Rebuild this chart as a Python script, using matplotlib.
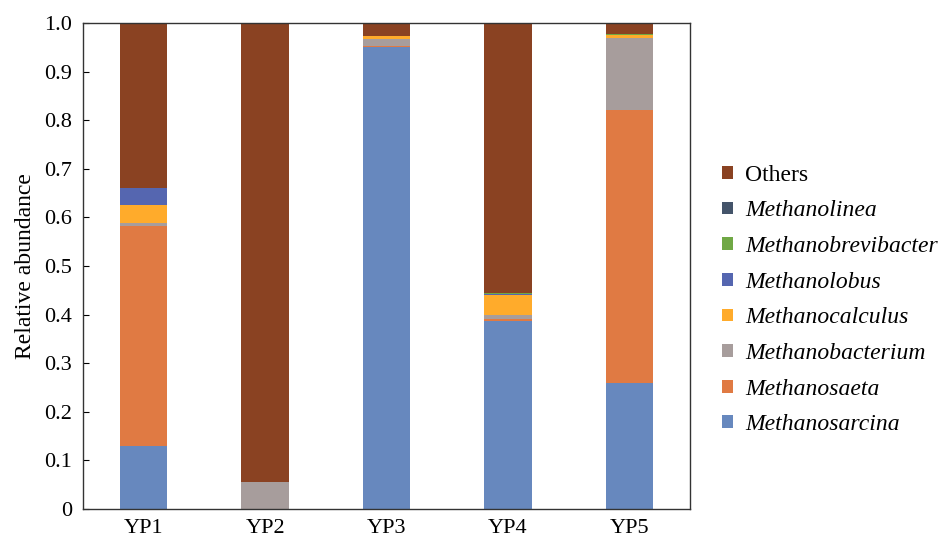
import matplotlib
matplotlib.use("Agg")
import matplotlib.pyplot as plt
import numpy as np

plt.rcParams['font.family'] = ['Liberation Serif', 'DejaVu Serif']

samples = ["YP1", "YP2", "YP3", "YP4", "YP5"]

# Relative abundance of each methanogen genus (bottom to top of each bar)
methanosarcina = [0.130, 0.000, 0.950, 0.387, 0.260]
methanosaeta = [0.452, 0.000, 0.003, 0.003, 0.560]
methanobacterium = [0.006, 0.056, 0.014, 0.010, 0.150]
methanocalculus = [0.037, 0.000, 0.006, 0.040, 0.005]
methanolobus = [0.035, 0.000, 0.000, 0.002, 0.000]
methanobrevibacter = [0.000, 0.000, 0.000, 0.002, 0.002]
methanolinea = [0.000, 0.000, 0.000, 0.000, 0.000]
others = [0.340, 0.944, 0.027, 0.556, 0.023]

series = [
    ("Methanosarcina", methanosarcina, "#6788be", True),
    ("Methanosaeta", methanosaeta, "#e07a43", True),
    ("Methanobacterium", methanobacterium, "#a79d9c", True),
    ("Methanocalculus", methanocalculus, "#ffab2b", True),
    ("Methanolobus", methanolobus, "#5566b0", True),
    ("Methanobrevibacter", methanobrevibacter, "#70a845", True),
    ("Methanolinea", methanolinea, "#44546a", True),
    ("Others", others, "#8a4222", False),
]

fig = plt.figure(figsize=(9.42, 5.41), dpi=100)
ax = fig.add_axes([83 / 942, 1 - 509 / 541, 607 / 942, 486 / 541])

x = np.arange(len(samples))
bottom = np.zeros(len(samples))
handles = []
for name, vals, color, italic in series:
    vals = np.array(vals)
    h = ax.bar(x, vals, 0.39, bottom=bottom, color=color, label=name, linewidth=0)
    handles.append((h, name, italic))
    bottom += vals

ax.set_xlim(-0.5, len(samples) - 0.5)
ax.set_ylim(0, 1.0)
ax.set_yticks(np.arange(0, 1.01, 0.1))
ax.set_yticklabels(["0"] + [f"{v:.1f}" for v in np.arange(0.1, 1.01, 0.1)])
ax.set_xticks(x)
ax.set_xticklabels(samples)
ax.tick_params(axis='y', direction='in', length=4, labelsize=16, pad=8)
ax.tick_params(axis='x', length=0, labelsize=16, pad=7)
for s in ax.spines.values():
    s.set_color("#333333")
    s.set_linewidth(1.0)
ax.set_ylabel("Relative abundance", fontsize=17, labelpad=6)

hs = [h for h, _, _ in handles][::-1]
labels = [n for _, n, _ in handles][::-1]
leg = fig.legend(hs, labels, loc="center left", bbox_to_anchor=(713 / 942, 1 - 300 / 541),
                 frameon=False, fontsize=17, handlelength=0.45, handleheight=0.45,
                 handletextpad=0.5, labelspacing=0.62, borderaxespad=0)
for txt, (_, _, italic) in zip(leg.get_texts(), handles[::-1]):
    if italic:
        txt.set_fontstyle("italic")

fig.savefig("out.png", dpi=100)
